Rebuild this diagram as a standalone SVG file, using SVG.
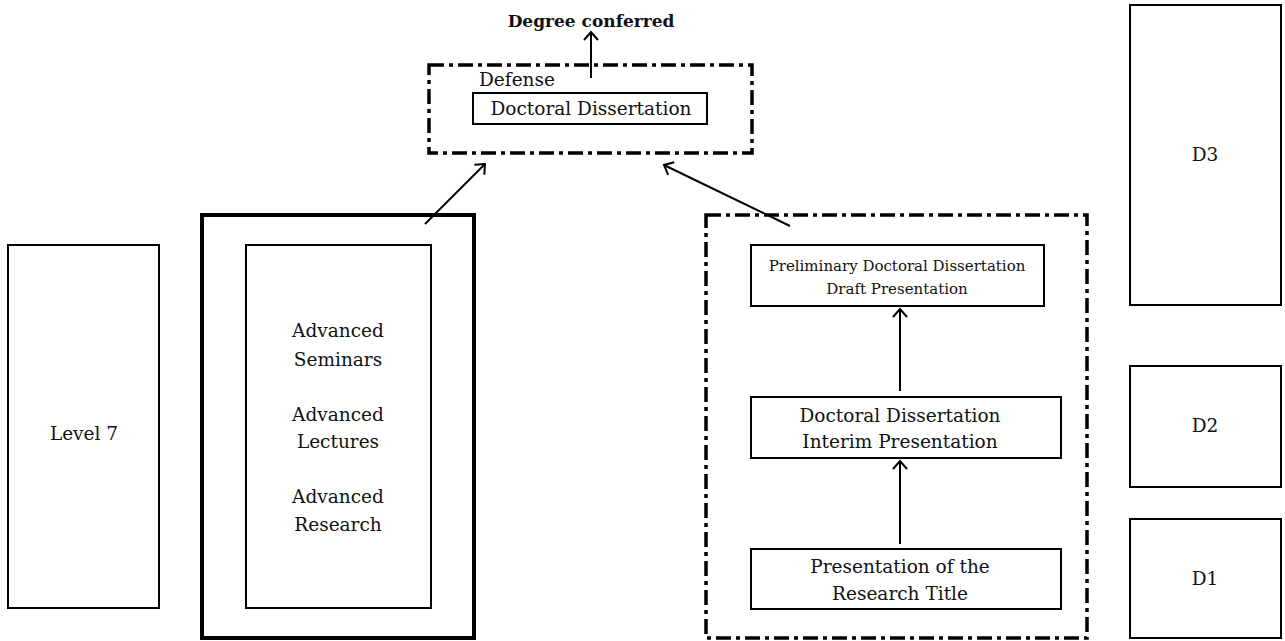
<svg xmlns="http://www.w3.org/2000/svg" width="1285" height="641" viewBox="0 0 1285 641">
<style>
text{font-family:"DejaVu Serif","Liberation Serif",serif;font-size:18.5px;fill:#111;text-anchor:middle}
.box{fill:none;stroke:#000;stroke-width:2}
.thick{fill:none;stroke:#000;stroke-width:4}
.dd{fill:none;stroke:#000;stroke-width:3.5;stroke-dasharray:15 5 4 5}
.con{fill:none;stroke:#000;stroke-width:2}
</style>
<defs>
<marker id="arr" markerUnits="userSpaceOnUse" markerWidth="20" markerHeight="20" refX="10" refY="10" orient="auto" viewBox="0 0 20 20">
<path d="M2,3 L10,10 L2,17" fill="none" stroke="#000" stroke-width="2"/>
</marker>
</defs>
<rect width="1285" height="641" fill="#fff"/>
<g id="degree"><text x="591" y="27" style="font-weight:bold;font-size:17px">Degree conferred</text></g>
<g id="defense">
<rect class="dd" x="429" y="65" width="323" height="88"/>
<text x="479" y="86" style="text-anchor:start">Defense</text>
</g>
<g id="doctoral-dissertation">
<rect class="box" x="473" y="93" width="234" height="31"/>
<text x="591" y="115">Doctoral Dissertation</text>
</g>
<g id="level7">
<rect class="box" x="8" y="245" width="151" height="363"/>
<text x="84" y="440">Level 7</text>
</g>
<g id="coursework-outer"><rect class="thick" x="202" y="215" width="272" height="423"/></g>
<g id="coursework">
<rect class="box" x="246" y="245" width="185" height="363"/>
<text x="338" y="337">Advanced</text>
<text x="338" y="366">Seminars</text>
<text x="338" y="421">Advanced</text>
<text x="338" y="448">Lectures</text>
<text x="338" y="503">Advanced</text>
<text x="338" y="531">Research</text>
</g>
<g id="research-group"><rect class="dd" x="706" y="215" width="381" height="423"/></g>
<g id="preliminary">
<rect class="box" x="751" y="245" width="293" height="61"/>
<text x="897" y="271" style="font-size:15px">Preliminary Doctoral Dissertation</text>
<text x="897" y="294" style="font-size:15px">Draft Presentation</text>
</g>
<g id="interim">
<rect class="box" x="751" y="397" width="310" height="61"/>
<text x="900" y="422">Doctoral Dissertation</text>
<text x="900" y="448">Interim Presentation</text>
</g>
<g id="title">
<rect class="box" x="751" y="549" width="310" height="60"/>
<text x="900" y="573">Presentation of the</text>
<text x="900" y="600">Research Title</text>
</g>
<g id="d3"><rect class="box" x="1130" y="5" width="151" height="300"/><text x="1205" y="161">D3</text></g>
<g id="d2"><rect class="box" x="1130" y="366" width="151" height="121"/><text x="1205" y="432">D2</text></g>
<g id="d1"><rect class="box" x="1130" y="519" width="151" height="119"/><text x="1205" y="585">D1</text></g>
<g id="connectors">
<line class="con" x1="591" y1="78" x2="591" y2="32" marker-end="url(#arr)"/>
<line class="con" x1="425" y1="224" x2="485" y2="164" marker-end="url(#arr)"/>
<line class="con" x1="790" y1="226" x2="664" y2="165" marker-end="url(#arr)"/>
<line class="con" x1="900" y1="391" x2="900" y2="309" marker-end="url(#arr)"/>
<line class="con" x1="900" y1="544" x2="900" y2="461" marker-end="url(#arr)"/>
</g>
</svg>
